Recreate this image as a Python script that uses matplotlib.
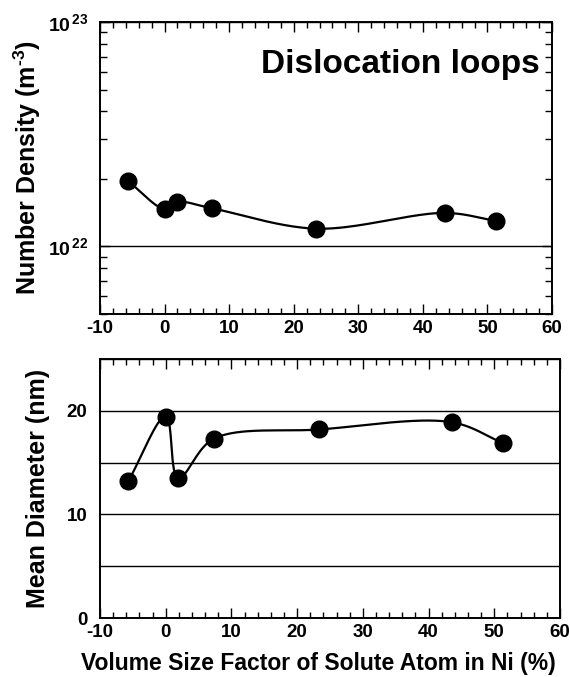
import numpy as np
import matplotlib
matplotlib.use('Agg')
import matplotlib.pyplot as plt
from matplotlib.ticker import MultipleLocator, LogLocator, NullFormatter, FixedLocator, FixedFormatter

plt.rcParams['font.family'] = ['Liberation Sans', 'DejaVu Sans']
plt.rcParams['font.weight'] = 'bold'
plt.rcParams['axes.unicode_minus'] = False
plt.rcParams['mathtext.fontset'] = 'custom'
plt.rcParams['mathtext.rm'] = 'Liberation Sans:bold'
plt.rcParams['mathtext.bf'] = 'Liberation Sans:bold'
plt.rcParams['mathtext.it'] = 'Liberation Sans:bold:italic'
plt.rcParams['mathtext.default'] = 'rm'

# ---- data ----
size_factor = [-5.7, 0.0, 1.9, 7.3, 23.4, 43.5, 51.3]
number_density = [1.96e22, 1.47e22, 1.58e22, 1.48e22, 1.20e22, 1.41e22, 1.30e22]
mean_diameter = [13.2, 19.45, 13.5, 17.3, 18.2, 18.9, 16.9]
x_ticks = [-10, 0, 10, 20, 30, 40, 50, 60]
density_ticks = [1e22, 1e23]
density_tick_labels = [r'$10^{\,22}$', r'$10^{\,23}$']
diam_ticks = [0, 10, 20]


def smooth_curve(ax, xs, ys, n=40):
    """Centripetal Catmull-Rom through the points, computed in display space."""
    pts = ax.transData.transform(np.column_stack([xs, ys]))
    P = np.vstack([2 * pts[0] - pts[1], pts, 2 * pts[-1] - pts[-2]])
    out = []
    for i in range(1, len(P) - 2):
        p0, p1, p2, p3 = P[i - 1], P[i], P[i + 1], P[i + 2]
        def tj(ti, a, b):
            return ti + max(np.linalg.norm(b - a), 1e-6) ** 0.5
        t0 = 0.0
        t1 = tj(t0, p0, p1)
        t2 = tj(t1, p1, p2)
        t3 = tj(t2, p2, p3)
        t = np.linspace(t1, t2, n)[:, None]
        A1 = (t1 - t) / (t1 - t0) * p0 + (t - t0) / (t1 - t0) * p1
        A2 = (t2 - t) / (t2 - t1) * p1 + (t - t1) / (t2 - t1) * p2
        A3 = (t3 - t) / (t3 - t2) * p2 + (t - t2) / (t3 - t2) * p3
        B1 = (t2 - t) / (t2 - t0) * A1 + (t - t0) / (t2 - t0) * A2
        B2 = (t3 - t) / (t3 - t1) * A2 + (t - t1) / (t3 - t1) * A3
        C = (t2 - t) / (t2 - t1) * B1 + (t - t1) / (t2 - t1) * B2
        out.append(C)
    out = np.vstack(out)
    data = ax.transData.inverted().transform(out)
    return data[:, 0], data[:, 1]


fig = plt.figure(figsize=(5.70, 6.77), dpi=100)
ax1 = fig.add_axes([0.1754, 0.5362, 0.793, 0.4313])
ax2 = fig.add_axes([0.1754, 0.0871, 0.807, 0.3826])

for ax in (ax1, ax2):
    for s in ax.spines.values():
        s.set_linewidth(1.4)
    ax.set_xlim(-10, 60)
    ax.xaxis.set_major_locator(FixedLocator(x_ticks))
    ax.xaxis.set_minor_locator(MultipleLocator(2))
    ax.tick_params(which='both', direction='in', top=True, right=True, width=1.0,
                   labelsize=13.5)
    ax.tick_params(which='major', length=7)
    ax.tick_params(which='minor', length=4)
    ax.tick_params(axis='x', pad=4)

# ---- top panel ----
ax1.set_yscale('log')
ax1.set_ylim(5e21, 1e23)
ax1.yaxis.set_major_locator(FixedLocator(density_ticks))
ax1.yaxis.set_major_formatter(FixedFormatter(density_tick_labels))
ax1.yaxis.set_minor_locator(LogLocator(base=10, subs=np.arange(2, 10), numticks=12))
ax1.yaxis.set_minor_formatter(NullFormatter())
ax1.grid(True, which='major', axis='y', color='black', linewidth=1.0)
ax1.tick_params(axis='y', which='minor', length=5)
ax1.tick_params(axis='y', which='major', labelsize=14, pad=8)
ax1.set_axisbelow(True)
fig.canvas.draw()
cx, cy = smooth_curve(ax1, size_factor, number_density)
ax1.plot(cx, cy, color='black', linewidth=1.6, zorder=3)
ax1.plot(size_factor, number_density, 'o', color='black', markersize=12, zorder=4)
ax1.set_ylabel(r'Number Density (m$^{\text{-3}}$)', fontsize=18, fontweight='bold')
ax1.yaxis.set_label_coords(-0.126, 0.5)
ax1.text(0.973, 0.853, 'Dislocation loops', transform=ax1.transAxes, ha='right',
         va='center', fontsize=24, fontweight='bold')

# ---- bottom panel ----
ax2.set_ylim(0, 25)
ax2.yaxis.set_major_locator(FixedLocator(diam_ticks))
ax2.yaxis.set_minor_locator(MultipleLocator(5))
ax2.grid(True, which='both', axis='y', color='black', linewidth=1.0)
ax2.tick_params(axis='y', which='both', length=0, pad=9)
ax2.set_axisbelow(True)
fig.canvas.draw()
cx, cy = smooth_curve(ax2, size_factor, mean_diameter)
ax2.plot(cx, cy, color='black', linewidth=1.6, zorder=3)
ax2.plot(size_factor, mean_diameter, 'o', color='black', markersize=12, zorder=4)
ax2.set_ylabel('Mean Diameter (nm)', fontsize=18, fontweight='bold')
ax2.yaxis.set_label_coords(-0.109, 0.5)
ax2.set_xlabel('Volume Size Factor of Solute Atom in Ni (%)', fontsize=16.5,
               fontweight='bold')
ax2.xaxis.set_label_coords(0.474, -0.131)

fig.savefig('out.png', dpi=100)
